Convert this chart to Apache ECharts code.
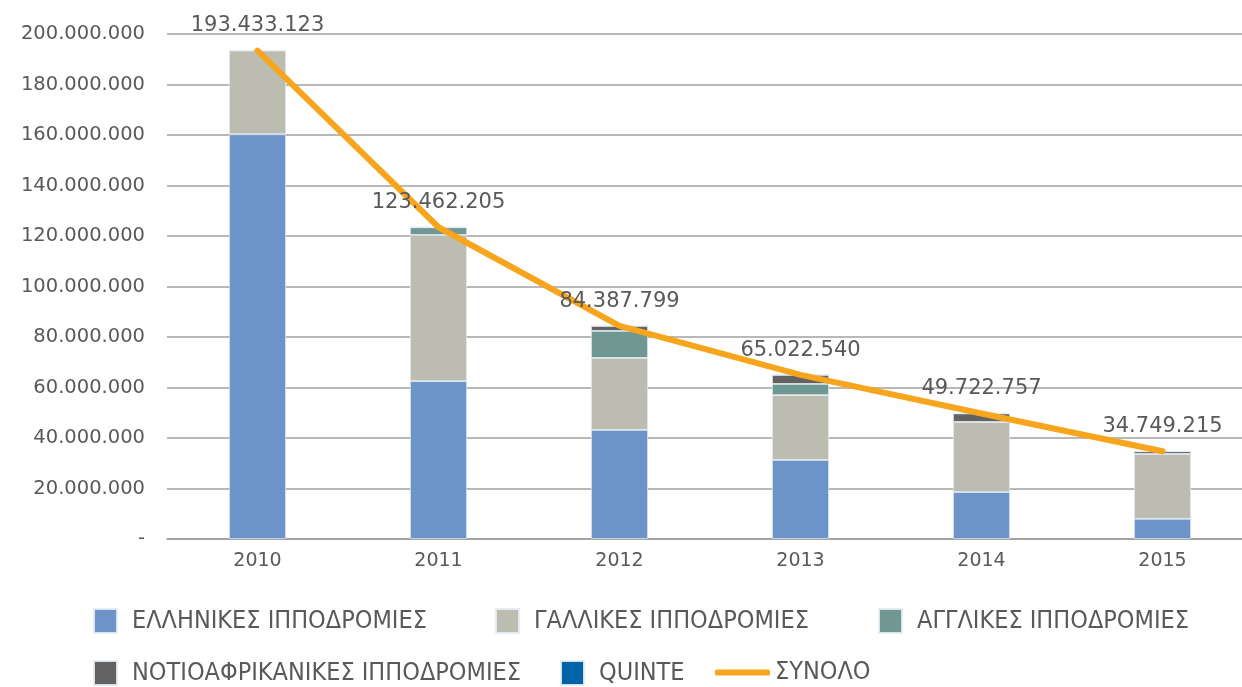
<!DOCTYPE html>
<html><head><meta charset="utf-8">
<script src="https://cdn.jsdelivr.net/npm/echarts@6/dist/echarts.min.js"></script>
<style>html,body{margin:0;padding:0;background:#fff;overflow:hidden;width:1242px;height:687px}#c{width:1253px;height:687px}</style>
</head><body><div id="c"></div>
<script>
var years = ['2010','2011','2012','2013','2014','2015'];
var greek = [160300000, 62500000, 43200000, 31300000, 18600000, 8000000];
var french = [33133123, 57900000, 28500000, 25700000, 27800000, 25700000];
var english = [0, 3062205, 10700000, 4400000, 0, 0];
var southAfrican = [0, 0, 1987799, 3622540, 3322757, 1049215];
var quinte = [0, 0, 0, 0, 0, 0];
var totals = [193433123, 123462205, 84387799, 65022540, 49722757, 34749215];
var yTicks = [0, 20000000, 40000000, 60000000, 80000000, 100000000, 120000000, 140000000, 160000000, 180000000, 200000000];

var names = ['ΕΛΛΗΝΙΚΕΣ ΙΠΠΟΔΡΟΜΙΕΣ','ΓΑΛΛΙΚΕΣ ΙΠΠΟΔΡΟΜΙΕΣ','ΑΓΓΛΙΚΕΣ ΙΠΠΟΔΡΟΜΙΕΣ','ΝΟΤΙΟΑΦΡΙΚΑΝΙΚΕΣ ΙΠΠΟΔΡΟΜΙΕΣ','QUINTE','ΣΥΝΟΛΟ'];
var colors = ['#6C94C8','#BCBCB0','#709893','#626262','#0063A6','#F7A51C'];
var FONT = '"DejaVu Sans", sans-serif';
var LFONT = '"DejaVu Sans Condensed", "DejaVu Sans", sans-serif';
var TXT = '#595959';

function fmt(v){
  if (v === 0) return '-';
  return String(Math.round(v)).replace(/\B(?=(\d{3})+(?!\d))/g, '.');
}

var barData = [greek, french, english, southAfrican, quinte];
var series = barData.map(function(d,i){
  return {
    name: names[i], type:'bar', stack:'s', data:d, barWidth:57,
    itemStyle:{color:colors[i], borderColor:'rgba(230,236,245,0.9)', borderWidth:0.8},
    emphasis:{disabled:true}
  };
});
series.push({
  name: names[5], type:'line', data: totals, showSymbol:true, symbol:'circle', symbolSize:0.1,
  lineStyle:{color:colors[5], width:6, cap:'round', join:'round'},
  itemStyle:{color:colors[5]},
  label:{show:true, position:'top', distance:14, formatter:function(p){return fmt(p.value);}, fontSize:21, color:TXT, fontFamily:FONT},
  z:5
});

var legendPos = [
  {left:93, top:608},
  {left:495, top:608},
  {left:878, top:608},
  {left:93, top:660},
  {left:560, top:660},
  {left:715, top:660}
];
var legends = names.map(function(n,i){
  var isLine = i===5;
  return {
    data:[{name:n, icon: isLine ? 'roundRect' : 'rect'}],
    left: legendPos[i].left, top: legendPos[i].top, padding:0,
    itemWidth: isLine ? 55 : 23, itemHeight: isLine ? 6 : 24,
    itemGap: 0,
    textStyle:{fontSize:25, color:TXT, fontFamily:LFONT, padding:[5,0,0, isLine?0:10]},
    selectedMode:false
  };
});

var chart = echarts.init(document.getElementById('c'));
chart.setOption({
  animation:false,
  backgroundColor:'#fff',
  grid:{left:167, right:0, top:34, bottom:148, containLabel:false},
  legend: legends,
  xAxis:{type:'category', data:years,
    axisLine:{lineStyle:{color:'#9a9a9a', width:1.5}},
    axisTick:{show:false},
    axisLabel:{fontSize:19, color:TXT, fontFamily:FONT, margin:13}
  },
  yAxis:{type:'value', min:yTicks[0], max:yTicks[yTicks.length-1], interval:yTicks[1]-yTicks[0],
    axisLine:{show:false}, axisTick:{show:false},
    splitLine:{lineStyle:{color:'#a0a0a0', width:1.5}},
    axisLabel:{fontSize:19.5, color:TXT, fontFamily:FONT, margin:22, formatter:fmt}
  },
  series: series
});
</script></body></html>
